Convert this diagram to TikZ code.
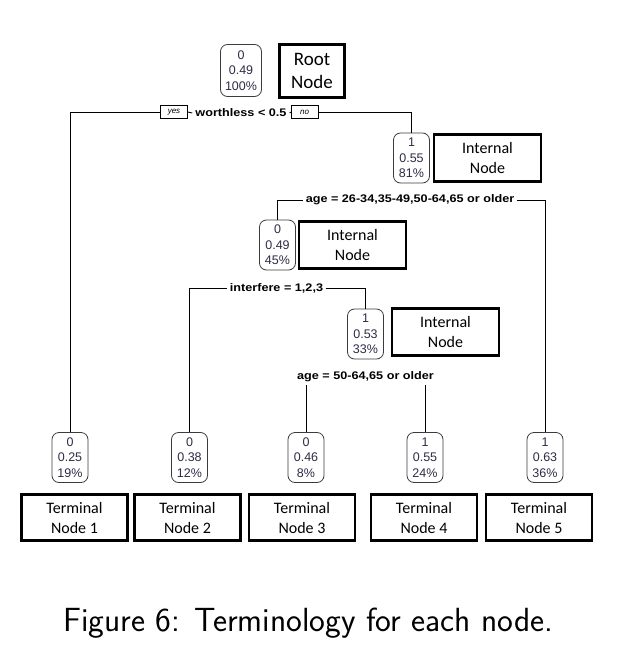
\documentclass[tikz,border=0pt]{standalone}
\usepackage{fontspec}
\newfontfamily\treefont{Liberation Sans}
\newfontfamily\splitfont[FakeStretch=1.15]{Liberation Sans}
\newfontfamily\boxfont{Carlito}
\definecolor{treetext}{RGB}{45,45,70}
\definecolor{treeborder}{RGB}{60,60,60}
\tikzset{
  treenode/.style={draw=treeborder, rounded corners=7pt, line width=0.8pt, align=center,
    inner sep=0pt, font=\treefont\fontsize{12.5}{15.5}\selectfont, text=treetext,
    minimum width=36pt, minimum height=50pt},
  labelbox/.style={draw, line width=2.6pt, align=center,
    font=\boxfont\fontsize{16}{20}\selectfont, inner sep=0pt},
  termbox/.style={labelbox, minimum width=106pt, minimum height=46.5pt},
  intbox/.style={labelbox, minimum width=107pt, minimum height=47.5pt},
  splitlbl/.style={font=\splitfont\bfseries\fontsize{11}{13}\selectfont, inner sep=3pt},
  yn/.style={draw, line width=0.6pt, font=\treefont\itshape\fontsize{8}{9}\selectfont,
    minimum width=27pt, minimum height=13pt, inner sep=0pt},
  edge/.style={line width=0.9pt}
}
\begin{document}
\begin{tikzpicture}[x=1pt,y=-1pt]
\useasboundingbox[fill=white] (0,0) rectangle (616,666);

% tree nodes
\node[treenode, minimum width=41pt, minimum height=52pt] (root) at (241,70.5) {0\\0.49\\100\%};
\node[treenode] (n2) at (411.5,158) {1\\0.55\\81\%};
\node[treenode] (n3) at (277.5,245) {0\\0.49\\45\%};
\node[treenode] (n4) at (365.5,334) {1\\0.53\\33\%};
\node[treenode] (t1) at (70,457.5) {0\\0.25\\19\%};
\node[treenode] (t2) at (189.5,457.5) {0\\0.38\\12\%};
\node[treenode] (t3) at (306,457.5) {0\\0.46\\8\%};
\node[treenode] (t4) at (425,457.5) {1\\0.55\\24\%};
\node[treenode] (t5) at (545,457.5) {1\\0.63\\36\%};

% split labels
\node[splitlbl] (s1) at (241,113) {worthless < 0.5};
\node[yn] (yes) at (174,112) {yes};
\node[yn] (no) at (304.5,112) {no};
\node[splitlbl] (s2) at (410,200) {age = 26-34,35-49,50-64,65 or older};
\node[splitlbl] (s3) at (276.5,288) {interfere = 1,2,3};
\node[splitlbl] (s4) at (365.5,377) {age = 50-64,65 or older};

% connectors
\draw[edge] (t1.north) |- (yes.west);
\draw[edge] (yes.east) -- (s1.west);
\draw[edge] (s1.east) -- (no.west);
\draw[edge] (no.east) -| (n2.north);
\draw[edge] (s2.west) -| (n3.north);
\draw[edge] (s2.east) -| (t5.north);
\draw[edge] (s3.west) -| (t2.north);
\draw[edge] (s3.east) -| (n4.north);
\draw[edge] (s4.south -| t3.north) -- (t3.north);
\draw[edge] (s4.south -| t4.north) -- (t4.north);

% terminology boxes
\node[labelbox, font=\boxfont\fontsize{19}{22.5}\selectfont, minimum width=65.5pt, minimum height=53.5pt] (rootlbl) at (312,71) {Root\\Node};
\node[intbox] (n2lbl) at (487.5,158) {Internal\\Node};
\node[intbox] (n3lbl) at (352.5,245) {Internal\\Node};
\node[intbox] (n4lbl) at (445.5,332) {Internal\\Node};
\node[termbox] (t1lbl) at (74.5,517.5) {Terminal\\Node 1};
\node[termbox] (t2lbl) at (187.5,517.5) {Terminal\\Node 2};
\node[termbox] (t3lbl) at (302,517.5) {Terminal\\Node 3};
\node[termbox] (t4lbl) at (424,517.5) {Terminal\\Node 4};
\node[termbox] (t5lbl) at (539,517.5) {Terminal\\Node 5};

% caption
\node[anchor=base west, inner sep=0pt, font=\sffamily\fontsize{33.5}{38}\selectfont] (cap) at (63,631) {Figure 6: Terminology for each node.};
\end{tikzpicture}
\end{document}
